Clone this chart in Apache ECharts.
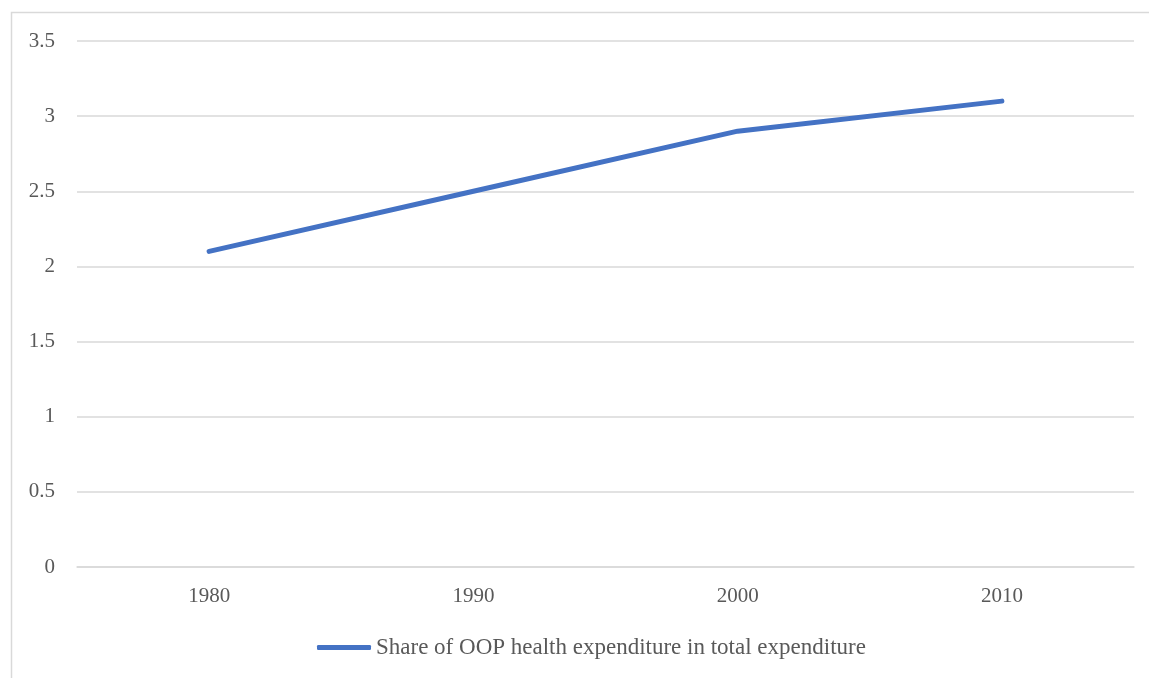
<!DOCTYPE html>
<html>
<head>
<meta charset="utf-8">
<script src="https://cdn.jsdelivr.net/npm/echarts@6/dist/echarts.min.js"></script>
<style>
  html, body { margin: 0; padding: 0; background: #fff; }
  #chart { width: 1149px; height: 678px; }
</style>
</head>
<body>
<div id="chart"></div>
<script>
// Out-of-pocket health expenditure share, by decade
const years = ['1980', '1990', '2000', '2010'];
const oopShare = [2.1, 2.5, 2.9, 3.1];
const seriesName = 'Share of OOP health expenditure in total expenditure';

const textColor = '#595959';
const fontFamily = '"Liberation Serif", "DejaVu Serif", serif';

const chart = echarts.init(document.getElementById('chart'), null, { renderer: 'canvas' });
chart.setOption({
  backgroundColor: '#ffffff',
  animation: false,
  graphic: [{
    type: 'rect',
    shape: { x: 11.5, y: 12.5, width: 1200, height: 700 },
    style: { fill: 'none', stroke: '#d9d9d9', lineWidth: 1.5 },
    silent: true,
    z: -10
  }],
  grid: { left: 77, right: 15, top: 41, bottom: 111, containLabel: false },
  xAxis: {
    type: 'category',
    data: years,
    boundaryGap: true,
    axisLine: { show: true, lineStyle: { color: '#d9d9d9', width: 1.5 } },
    axisTick: { show: false },
    axisLabel: { color: textColor, fontFamily, fontSize: 21, margin: 19 }
  },
  yAxis: {
    type: 'value',
    min: 0,
    max: 3.5,
    interval: 0.5,
    axisLine: { show: false },
    axisTick: { show: false },
    splitLine: { lineStyle: { color: '#d9d9d9', width: 1.5 } },
    axisLabel: { color: textColor, fontFamily, fontSize: 21, margin: 22 }
  },
  legend: {
    bottom: 14,
    left: 312,
    data: [{ name: seriesName, icon: 'roundRect' }],
    itemWidth: 54,
    itemHeight: 5,
    itemGap: 4,
    textStyle: { color: textColor, fontFamily, fontSize: 23 }
  },
  series: [{
    name: seriesName,
    type: 'line',
    data: oopShare,
    showSymbol: false,
    symbol: 'none',
    lineStyle: { color: '#4472C4', width: 5, cap: 'round', join: 'round' },
    itemStyle: { color: '#4472C4' }
  }]
});
</script>
</body>
</html>
